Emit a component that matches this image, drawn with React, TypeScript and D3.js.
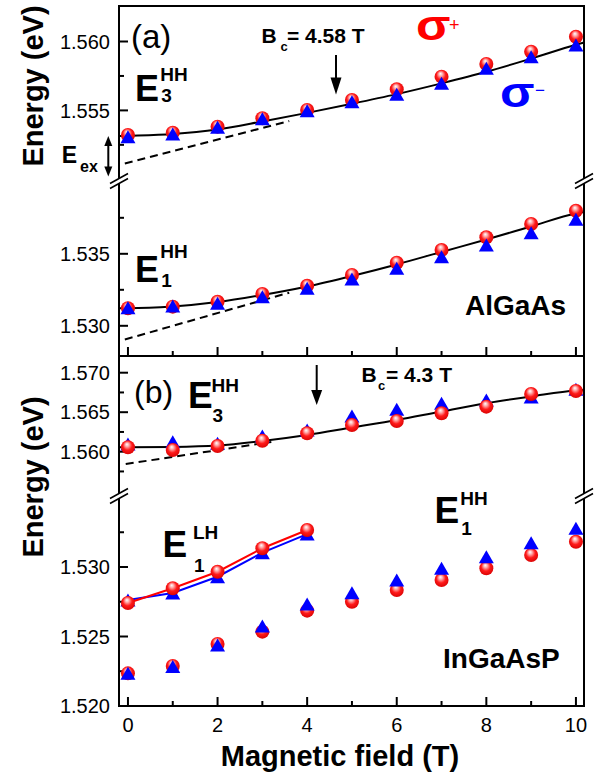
import React, { useEffect, useRef } from "react";
import * as d3 from "d3";

// magnetic field (T) of the measured points
const field = [0, 1, 2, 3, 4, 5, 6, 7, 8, 9, 10];

// (a) AlGaAs
const aE3Plus = [1.55321, 1.55338, 1.55382, 1.55443, 1.55503, 1.55575, 1.55653, 1.55745, 1.55837, 1.55926, 1.56035];
const aE3Minus = [1.55309, 1.55329, 1.55377, 1.5544, 1.55498, 1.55563, 1.55617, 1.55697, 1.55806, 1.5589, 1.55975];
const aE1Plus = [1.53122, 1.53133, 1.53167, 1.53221, 1.53278, 1.53353, 1.53438, 1.53526, 1.53615, 1.53707, 1.53799];
const aE1Minus = [1.53126, 1.53138, 1.53156, 1.53202, 1.5326, 1.53325, 1.53399, 1.5348, 1.53561, 1.53647, 1.5374];

// (b) InGaAsP
const bE3Plus = [1.56056, 1.56022, 1.56072, 1.56139, 1.56233, 1.56338, 1.56389, 1.56486, 1.5657, 1.5673, 1.56768];
const bE3Minus = [1.56097, 1.56127, 1.56106, 1.56199, 1.56275, 1.56452, 1.56537, 1.56613, 1.56654, 1.56692, 1.5679];
const bE1Plus = [1.52235, 1.52288, 1.52446, 1.52535, 1.52686, 1.5275, 1.52835, 1.52906, 1.52991, 1.53086, 1.53182];
const bE1Minus = [1.52235, 1.52284, 1.52439, 1.52576, 1.52734, 1.52815, 1.52906, 1.52991, 1.53074, 1.53175, 1.53278];
const lhField = [0, 1, 2, 3, 4];
const bLHPlus = [1.52741, 1.52847, 1.52966, 1.53135, 1.53266];
const bLHMinus = [1.52763, 1.52813, 1.5293, 1.53103, 1.53237];

// fitted curves (solid) and high-field extrapolations (dashed)
const fitField = [-0.2, 0, 1, 2, 3, 4, 5, 6, 7, 8, 9, 10, 10.18];
const aE3Fit = [1.55314, 1.55316, 1.55329, 1.55362, 1.5542, 1.55482, 1.55548, 1.55618, 1.55696, 1.5578, 1.55876, 1.55977, 1.55993];
const aE1Fit = [1.53122, 1.53122, 1.53134, 1.53165, 1.53214, 1.53273, 1.53346, 1.53426, 1.53513, 1.53599, 1.5369, 1.5378, 1.5379];
const bE3Fit = [1.56056, 1.56056, 1.5606, 1.56078, 1.56135, 1.56211, 1.56306, 1.56401, 1.56509, 1.56613, 1.56699, 1.56775, 1.56781];
const aDashField = [-0.07, 3.6];
const aE3Dash = [1.55115, 1.55423];
const aE1Dash = [1.52905, 1.5323];
const bDashField = [-0.05, 3.2];
const bE3Dash = [1.55844, 1.56123];

// ticks
const xMajor = [0, 2, 4, 6, 8, 10];
const xMinor = [1, 3, 5, 7, 9];
const aUpMajor = [1.555, 1.56];
const aUpMinor = [1.5525, 1.5575];
const aLoMajor = [1.53, 1.535];
const aLoMinor = [1.5325, 1.5375];
const bUpMajor = [1.56, 1.565, 1.57];
const bUpMinor = [1.5575, 1.5625, 1.5675];
const bLoMajor = [1.52, 1.525, 1.53];
const bLoMinor = [1.5225, 1.5275, 1.5325];

const FONT = "'Liberation Sans', Arial, Helvetica, sans-serif";

const App = () => {
  const svgRef = useRef<SVGSVGElement>(null);

  useEffect(() => {
    const svg = d3.select(svgRef.current);
    svg.selectAll("*").remove();

    const left = 119, right = 584;
    const topA = 6, mid = 356, botB = 706;
    const breakA = 181, breakB = 496;

    const x = d3.scaleLinear().domain([-0.2, 10.18]).range([left, right]);
    const yAU = d3.scaleLinear().domain([1.55, 1.56]).range([179.3, 41.5]);
    const yAL = d3.scaleLinear().domain([1.53, 1.535]).range([325.8, 253.8]);
    const yBU = d3.scaleLinear().domain([1.56, 1.57]).range([451.7, 372.7]);
    const yBL = d3.scaleLinear().domain([1.52, 1.53]).range([706, 567]);

    const defs = svg.append("defs");
    const grad = defs.append("radialGradient").attr("id", "ball")
      .attr("cx", "50%").attr("cy", "45%").attr("r", "60%")
      .attr("fx", "42%").attr("fy", "28%");
    grad.append("stop").attr("offset", "0%").attr("stop-color", "#ffffff");
    grad.append("stop").attr("offset", "22%").attr("stop-color", "#ffb0b0");
    grad.append("stop").attr("offset", "55%").attr("stop-color", "#ff1a1a");
    grad.append("stop").attr("offset", "100%").attr("stop-color", "#d40000");

    const g = svg.append("g");

    // frame
    const stroke = (sel) => sel.attr("stroke", "#000").attr("stroke-width", 2).attr("fill", "none");
    [topA, mid, botB].forEach((yy) => {
      g.append("line").attr("x1", left - 1).attr("x2", right + 1).attr("y1", yy).attr("y2", yy).call(stroke);
    });
    const gap = 2.5;
    [left, right].forEach((xx) => {
      [[topA, breakA - gap], [breakA + gap, breakB - gap], [breakB + gap, botB]].forEach(([a, b]) => {
        g.append("line").attr("x1", xx).attr("x2", xx).attr("y1", a).attr("y2", b).call(stroke);
      });
      [breakA, breakB].forEach((yc) => {
        [-gap, gap].forEach((d) => {
          g.append("line")
            .attr("x1", xx - 9).attr("y1", yc + d + 5)
            .attr("x2", xx + 9).attr("y2", yc + d - 5)
            .attr("stroke", "#000").attr("stroke-width", 1.6);
        });
      });
    });

    // x ticks at the bottom of both panels
    [mid, botB].forEach((yy) => {
      xMajor.forEach((t) => g.append("line").attr("x1", x(t)).attr("x2", x(t)).attr("y1", yy).attr("y2", yy - 9).call(stroke));
      xMinor.forEach((t) => g.append("line").attr("x1", x(t)).attr("x2", x(t)).attr("y1", yy).attr("y2", yy - 5).call(stroke));
    });
    xMajor.forEach((t) => {
      g.append("text").attr("x", x(t)).attr("y", 732).attr("text-anchor", "middle")
        .attr("font-size", 20).text(d3.format("d")(t));
    });

    // y ticks
    const yAxes = [
      [yAU, aUpMajor, aUpMinor],
      [yAL, aLoMajor, aLoMinor],
      [yBU, bUpMajor, bUpMinor],
      [yBL, bLoMajor, bLoMinor],
    ];
    yAxes.forEach(([sc, major, minor]) => {
      major.forEach((t) => {
        g.append("line").attr("x1", left).attr("x2", left + 9).attr("y1", sc(t)).attr("y2", sc(t)).call(stroke);
        g.append("text").attr("x", 110).attr("y", sc(t)).attr("dy", "0.36em").attr("text-anchor", "end")
          .attr("font-size", 20).text(d3.format(".3f")(t));
      });
      minor.forEach((t) => {
        g.append("line").attr("x1", left).attr("x2", left + 5).attr("y1", sc(t)).attr("y2", sc(t)).call(stroke);
      });
    });

    // axis titles
    ["86", "477"].forEach((cy) => {
      g.append("text").attr("transform", `translate(42.5,${cy}) rotate(-90)`)
        .attr("text-anchor", "middle").attr("font-size", 29).attr("font-weight", "bold").text("Energy (eV)");
    });
    g.append("text").attr("x", 340).attr("y", 766).attr("text-anchor", "middle")
      .attr("font-size", 29).attr("font-weight", "bold").text("Magnetic field (T)");

    // curves
    const drawCurve = (fx, fy, sc, dashed) => {
      const line = d3.line<number>().x((d, i) => x(fx[i])).y((d) => sc(d));
      if (!dashed) line.curve(d3.curveMonotoneX);
      g.append("path").datum(fy).attr("d", line).attr("fill", "none").attr("stroke", "#000")
        .attr("stroke-width", 2).attr("stroke-dasharray", dashed ? "8,5" : null);
    };
    drawCurve(fitField, aE3Fit, yAU, false);
    drawCurve(fitField, aE1Fit, yAL, false);
    drawCurve(fitField, bE3Fit, yBU, false);
    drawCurve(aDashField, aE3Dash, yAU, true);
    drawCurve(aDashField, aE1Dash, yAL, true);
    drawCurve(bDashField, bE3Dash, yBU, true);

    // connected LH lines
    const conn = (vals, sc, color) => {
      const line = d3.line<number>().x((d, i) => x(lhField[i])).y((d) => sc(d));
      g.append("path").datum(vals).attr("d", line).attr("fill", "none").attr("stroke", color).attr("stroke-width", 2);
    };
    conn(bLHMinus, yBL, "#0000ff");
    conn(bLHPlus, yBL, "#ff0000");

    // markers
    const circles = (fx, vals, sc) => {
      g.append("g").selectAll("circle").data(vals).join("circle")
        .attr("cx", (d, i) => x(fx[i])).attr("cy", (d) => sc(d)).attr("r", 7)
        .attr("fill", "url(#ball)");
    };
    const tw = 15, th = 13;
    const triPath = `M0,${-th / 2}L${tw / 2},${th / 2}L${-tw / 2},${th / 2}Z`;
    const triangles = (fx, vals, sc) => {
      g.append("g").selectAll("path").data(vals).join("path")
        .attr("d", triPath)
        .attr("transform", (d, i) => `translate(${x(fx[i])},${sc(d)})`)
        .attr("fill", "#0000ff");
    };
    circles(field, aE3Plus, yAU);
    triangles(field, aE3Minus, yAU);
    circles(field, aE1Plus, yAL);
    triangles(field, aE1Minus, yAL);
    triangles(field, bE3Minus, yBU);
    circles(field, bE3Plus, yBU);
    circles(field, bE1Plus, yBL);
    triangles(field, bE1Minus, yBL);
    triangles(lhField, bLHMinus, yBL);
    circles(lhField, bLHPlus, yBL);

    // text annotations
    const txt = (xx, yy, s, size, bold = false, fill = "#000") =>
      g.append("text").attr("x", xx).attr("y", yy).attr("font-size", size)
        .attr("font-weight", bold ? "bold" : "normal").attr("fill", fill).text(s);
    const level = (xx, yy, main, sup, sub, supY, subY, supX, size = 36) => {
      txt(xx, yy, main, size, true);
      txt(supX, supY, sup, 19, true);
      txt(supX + 1, subY, sub, 19, true);
    };
    level(135, 101, "E", "HH", "3", 81, 102, 160.3);
    level(135, 282, "E", "HH", "1", 258, 287, 160.3);
    level(188, 408, "E", "HH", "3", 392, 422, 211.6, 37);
    level(162.5, 557, "E", "LH", "1", 539, 572, 193, 37);
    level(434.5, 523, "E", "HH", "1", 505, 535, 460.3, 37);

    txt(131, 48, "(a)", 33);
    txt(134, 403, "(b)", 32);

    txt(61.7, 163, "E", 23, true);
    txt(80, 172, "ex", 16, true);

    txt(261.5, 43, "B", 21, true);
    txt(280.5, 51, "c", 13, true);
    txt(287, 43, "= 4.58 T", 21, true);
    txt(361.5, 382, "B", 21, true);
    txt(378, 390, "c", 13, true);
    txt(386, 382, "= 4.3 T", 21, true);

    // polarisation labels, sigma drawn a little wider than the font
    const sigma = (xx, yy, fill) =>
      g.append("text").attr("transform", `translate(${xx},${yy}) scale(1.2,1)`)
        .attr("font-size", 42).attr("font-weight", "bold").attr("fill", fill).text("σ");
    sigma(416, 40, "#ff0000");
    txt(449, 31, "+", 18, false, "#ff0000");
    sigma(500, 107, "#0000ff");
    txt(535, 96, "\u2212", 17, false, "#0000ff");

    txt(465, 315, "AlGaAs", 28, true);
    txt(443, 668, "InGaAsP", 28, true);

    // arrows
    const downArrow = (xx, y0, y1, hw, hh) => {
      g.append("line").attr("x1", xx).attr("x2", xx).attr("y1", y0).attr("y2", y1 - hh + 2)
        .attr("stroke", "#000").attr("stroke-width", 2);
      g.append("path").attr("d", `M${xx - hw / 2},${y1 - hh}L${xx + hw / 2},${y1 - hh}L${xx},${y1}Z`).attr("fill", "#000");
    };
    downArrow(336, 55, 94.5, 11, 17);
    downArrow(316.7, 365, 405, 11, 15);

    // exciton binding energy double arrow
    const ex = 108.3, et = 136, eb = 176.5;
    g.append("line").attr("x1", ex).attr("x2", ex).attr("y1", et + 8).attr("y2", eb - 8)
      .attr("stroke", "#000").attr("stroke-width", 2);
    g.append("path").attr("d", `M${ex - 4},${et + 10}L${ex + 4},${et + 10}L${ex},${et}Z`).attr("fill", "#000");
    g.append("path").attr("d", `M${ex - 4},${eb - 10}L${ex + 4},${eb - 10}L${ex},${eb}Z`).attr("fill", "#000");
  }, []);

  return (
    <svg
      ref={svgRef}
      width={609}
      height={779}
      style={{ position: "absolute", left: 0, top: 0, background: "#fff", fontFamily: FONT }}
    ></svg>
  );
};

export default App;
